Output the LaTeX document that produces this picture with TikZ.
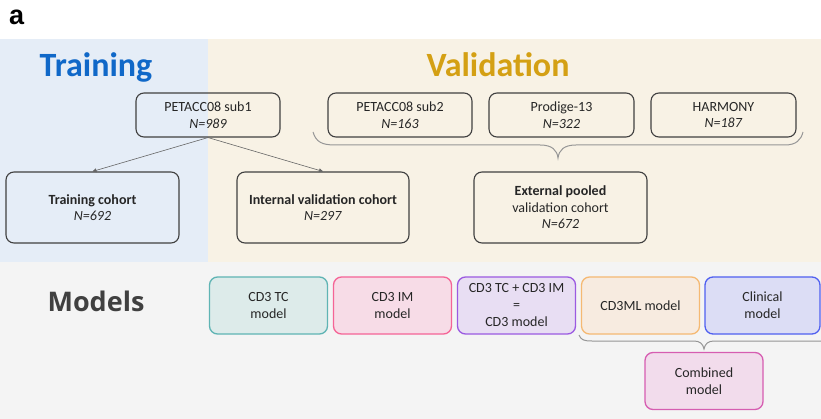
\documentclass[tikz,border=0pt]{standalone}
\usepackage{fontspec}
\setmainfont{Carlito}
\newfontfamily\titlefont{Carlito}
\newfontfamily\modfont{Open Sans}
\newfontfamily\labfont{Liberation Sans}
\usetikzlibrary{arrows.meta}
\definecolor{bgblue}{RGB}{229,237,247}
\definecolor{bgbeige}{RGB}{248,242,229}
\definecolor{bggray}{RGB}{244,244,244}
\definecolor{trblue}{RGB}{16,104,200}
\definecolor{valgold}{RGB}{212,160,20}
\definecolor{boxline}{RGB}{64,64,64}
\definecolor{boxtext}{RGB}{38,38,38}
\definecolor{tcline}{RGB}{95,180,180}
\definecolor{tcfill}{RGB}{221,235,234}
\definecolor{imline}{RGB}{245,100,150}
\definecolor{imfill}{RGB}{247,220,231}
\definecolor{cdline}{RGB}{155,90,225}
\definecolor{cdfill}{RGB}{232,222,243}
\definecolor{mlline}{RGB}{245,185,115}
\definecolor{mlfill}{RGB}{247,235,224}
\definecolor{clline}{RGB}{80,96,240}
\definecolor{clfill}{RGB}{220,221,245}
\definecolor{cbline}{RGB}{214,93,177}
\definecolor{cbfill}{RGB}{242,220,236}
\definecolor{bracegray}{RGB}{150,150,150}
\tikzset{
  cohort/.style={draw=boxline, line width=1.1pt, rounded corners=8pt, align=center,
    text=boxtext, font=\fontsize{14}{16.5}\selectfont, inner sep=0pt},
  topbox/.style={cohort, minimum width=144pt, minimum height=44pt},
  bigbox/.style={cohort, minimum width=172pt, minimum height=71pt},
  modelbox/.style={rounded corners=8pt, line width=1.3pt, align=center, text=boxtext,
    font=\fontsize{14}{17}\selectfont, inner sep=0pt, minimum width=118pt, minimum height=57pt},
  arr/.style={draw=boxline!80, line width=0.6pt, -{Triangle[length=4pt,width=4pt]}},
  bracepath/.style={draw=bracegray, line width=1pt},
}
\begin{document}
\begin{tikzpicture}[x=1pt,y=-1pt]
\useasboundingbox (0,0) rectangle (821,419);
\fill[white] (0,0) rectangle (821,39);
\fill[bgblue] (0,39) rectangle (208,262);
\fill[bgbeige] (208,39) rectangle (821,262);
\fill[bggray] (0,262) rectangle (821,419);

\node[font=\labfont\bfseries\fontsize{27}{27}\selectfont, anchor=base west, inner sep=0pt] (lab) at (9,25) {a};
\node[font=\titlefont\bfseries\fontsize{34}{34}\selectfont, text=trblue, anchor=base] (ttr) at (96,77) {Training};
\node[font=\titlefont\bfseries\fontsize{34}{34}\selectfont, text=valgold, anchor=base] (tval) at (498,77) {Validation};
\node[font=\modfont\bfseries\fontsize{27}{27}\selectfont, text=boxline, anchor=base] (tmod) at (96,312) {Models};

\node[topbox] (s1) at (208,115) {PETACC08 sub1\\\textit{N=989}};
\node[topbox] (s2) at (400,115) {PETACC08 sub2\\\textit{N=163}};
\node[topbox, minimum width=145pt] (pr) at (561.5,115) {Prodige-13\\\textit{N=322}};
\node[topbox, minimum width=145pt] (ha) at (723.5,115) {HARMONY\\\textit{N=187}};

\node[bigbox, minimum width=173pt] (tc) at (92.5,207.5) {\textbf{Training cohort}\\\textit{N=692}};
\node[bigbox] (iv) at (323,207.5) {\textbf{Internal validation cohort}\\\textit{N=297}};
\node[bigbox, minimum width=173pt] (ev) at (560.5,207.5) {\textbf{External pooled}\\validation cohort\\\textit{N=672}};

\draw[arr] (s1.south) -- (tc.north);
\draw[arr] (s1.south) -- (iv.north);

% top brace
\coordinate (bl) at (313,132);
\coordinate (bt) at (558,158);
\coordinate (br) at (803,132);
\draw[bracepath] (bl) .. controls (316,142) and (322,145) .. (335,145)
  -- (540,145) .. controls (552,145) and (557,150) .. (bt)
  .. controls (559,150) and (564,145) .. (576,145)
  -- (785,145) .. controls (796,145) and (801,140) .. (br);

\node[modelbox, draw=tcline, fill=tcfill] (m1) at (268.5,305.5) {CD3 TC\\model};
\node[modelbox, draw=imline, fill=imfill] (m2) at (392.5,305.5) {CD3 IM\\model};
\node[modelbox, draw=cdline, fill=cdfill] (m3) at (516.5,305.5) {CD3 TC + CD3 IM\\=\\CD3 model};
\node[modelbox, draw=mlline, fill=mlfill] (m4) at (640.5,305.5) {CD3ML model};
\node[modelbox, draw=clline, fill=clfill, minimum width=115pt] (m5) at (762.5,305.5) {Clinical\\model};
\node[modelbox, draw=cbline, fill=cbfill] (m6) at (704,381) {Combined\\model};

% bottom brace
\coordinate (cl) at (579,335);
\coordinate (ct) at (704,349);
\coordinate (cr) at (821,341);
\draw[bracepath] (cl) .. controls (581,340) and (584,341) .. (592,341)
  -- (694,341) .. controls (700,341) and (703,344) .. (ct)
  .. controls (705,344) and (708,341) .. (714,341) -- (cr);
\end{tikzpicture}
\end{document}
